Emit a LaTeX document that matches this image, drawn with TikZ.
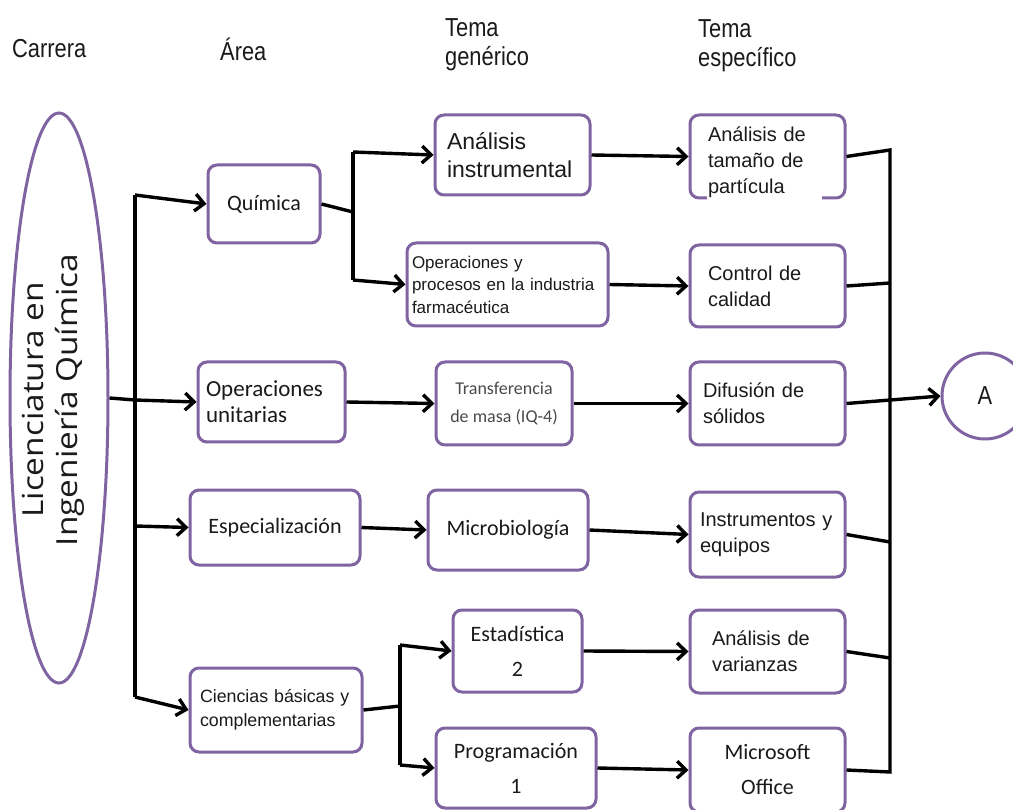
\documentclass[tikz,border=0pt]{standalone}
\usepackage{fontspec}
\setmainfont{Liberation Sans}
\newfontfamily\calfont{Carlito}
\newfontfamily\openfont[FakeStretch=1.15]{Open Sans}
\newfontfamily\headfont[FakeStretch=0.84]{Liberation Sans}
\usetikzlibrary{arrows.meta,shapes.geometric}
\definecolor{frame}{HTML}{8064A2}
\definecolor{ink}{HTML}{1A1A1A}
\definecolor{greyink}{HTML}{4A4A4A}
\newcommand\setfs[2]{\fontsize{#1}{#2}\selectfont}
\begin{document}
\begin{tikzpicture}[x=1pt,y=-1pt,
  box/.style={draw=frame, line width=3pt, rounded corners=9pt, fill=white, inner sep=0pt, text=ink},
  plain/.style={inner sep=0pt, text=ink},
  conn/.style={draw=black, line width=3.4pt},
  arr/.style={conn, -{Straight Barb[length=9pt,width=17pt,line width=3.4pt]}},
  head/.style={inner sep=0pt, anchor=west, align=left, text=ink, font=\headfont\setfs{26}{29}}]
\useasboundingbox (0,0) rectangle (1013,810);
\fill[white] (0,0) rectangle (1013,810);

% column headings
\node[head] (hcar) at (12,49) {Carrera};
\node[head] (hare) at (220,49) {Área};
\node[head] (hgen) at (445,45) {Tema\\genérico};
\node[head] (hesp) at (698,46) {Tema\\específico};

% career
\node[ellipse, draw=frame, line width=3pt, minimum width=98pt, minimum height=570pt, inner sep=0pt] (car) at (59,398) {};
\node[plain, rotate=90, align=center, font=\openfont\setfs{29}{34}] (cartxt) at (53,400) {Licenciatura en\\Ingeniería Química};

% areas
\node[box, minimum width=112pt, minimum height=78pt, font=\calfont\setfs{22}{26}] (quim) at (264,204) {Química};
\node[box, minimum width=147pt, minimum height=80pt, text width=131pt, align=left, font=\calfont\setfs{23}{26}] (opun) at (271.5,402) {Operaciones\\unitarias};
\node[box, minimum width=170pt, minimum height=75pt, font=\calfont\setfs{22}{26}] (espe) at (275,527.5) {Especialización};
\node[box, minimum width=172pt, minimum height=84pt, text width=152pt, align=left, font=\setfs{17.8}{24}] (cien) at (276,710) {Ciencias básicas y\\complementarias};

% generic topics
\node[box, minimum width=155pt, minimum height=80pt, text width=131pt, align=left, font=\setfs{23}{28}] (anin) at (512.5,155) {Análisis\\instrumental};
\node[box, minimum width=201pt, minimum height=83pt, text width=191pt, align=left, font=\setfs{17}{22.5}] (opro) at (507.5,284.5) {Operaciones y\\procesos en la industria\\farmacéutica};
\node[box, minimum width=136pt, minimum height=83pt, align=center, text=greyink, font=\calfont\setfs{18}{28}] (tran) at (504,403.5) {Transferencia\\de masa (IQ-4)};
\node[box, minimum width=160pt, minimum height=80pt, font=\calfont\setfs{22}{26}] (micr) at (508,530) {Microbiología};
\node[box, minimum width=129pt, minimum height=82pt, align=center, font=\calfont\setfs{22}{35}] (esta) at (517.5,651) {Estadística\\2};
\node[box, minimum width=160pt, minimum height=80pt, align=center, font=\calfont\setfs{22}{35}] (prog) at (516,768) {Programación\\1};

% specific topics
\node[box, minimum width=155pt, minimum height=83pt] (atam) at (767.5,156.5) {};
\fill[white] (707,194) rectangle (822,201);
\node[plain, text width=119pt, align=left, font=\setfs{20}{26}] (atamtxt) at (767.5,162) {Análisis de\\tamaño de\\partícula};
\node[box, minimum width=155pt, minimum height=82pt, text width=119pt, align=left, font=\setfs{20}{26}] (ctrl) at (767.5,286) {Control de\\calidad};
\node[box, minimum width=155pt, minimum height=83pt, text width=129pt, align=left, font=\setfs{20}{26}] (difu) at (767.5,403.5) {Difusión de\\sólidos};
\node[box, minimum width=155pt, minimum height=85pt, text width=135pt, align=left, font=\setfs{20}{26}] (inst) at (767.5,534.5) {Instrumentos y\\equipos};
\node[box, minimum width=155pt, minimum height=83pt, text width=111pt, align=left, font=\setfs{20}{26}] (vari) at (767.5,651.5) {Análisis de\\varianzas};
\node[box, minimum width=155pt, minimum height=84pt, align=center, font=\calfont\setfs{22}{35}] (offi) at (767.5,770) {Microsoft\\Office};

% continuation mark
\node[circle, draw=frame, line width=3pt, minimum size=86pt, inner sep=0pt, text=ink, font=\headfont\setfs{26}{28}] (A) at (985,396) {A};

% career to areas
\coordinate (tTop) at (135,195);
\coordinate (tMid) at (135,400);
\coordinate (tEsp) at (135,526);
\coordinate (tBot) at (135,697);
\draw[conn] (tTop) -- (tBot);
\draw[arr] (tTop) -- (quim.west);
\draw[arr] (car.east) -- (tMid) -- (opun.west);
\draw[arr] (tEsp) -- (espe.west);
\draw[arr] (tBot) -- (cien.west);

% Química branch
\coordinate (qj) at (353,212);
\coordinate (qt) at (353,152);
\coordinate (qb) at (353,280);
\draw[conn] (quim.east) -- (qj);
\draw[conn] (qt) -- (qb);
\draw[arr] (qt) -- (anin.west);
\draw[arr] (qb) -- (opro.west);

% remaining areas to generic topics
\draw[arr] (opun.east) -- (tran.west);
\draw[arr] (espe.east) -- (micr.west);
\coordinate (cj) at (400,706);
\coordinate (ct) at (400,645);
\coordinate (cb) at (400,765);
\draw[conn] (cien.east) -- (cj);
\draw[conn] (ct) -- (cb);
\draw[arr] (ct) -- (esta.west);
\draw[arr] (cb) -- (prog.west);

% generic to specific topics
\draw[arr] (anin.east) -- (atam.west);
\draw[arr] (opro.east) -- (ctrl.west);
\draw[arr] (tran.east) -- (difu.west);
\draw[arr] (micr.east) -- (inst.west);
\draw[arr] (esta.east) -- (vari.west);
\draw[arr] (prog.east) -- (offi.west);

% collector on the right
\coordinate (r1) at (890,150);
\coordinate (r2) at (890,283);
\coordinate (r4) at (890,542);
\coordinate (r5) at (890,658);
\coordinate (r6) at (890,772);
\draw[conn] (atam.east) -- (r1) -- (r6) -- (offi.east);
\draw[conn] (ctrl.east) -- (r2);
\draw[conn] (inst.east) -- (r4);
\draw[conn] (vari.east) -- (r5);
\draw[arr] (difu.east) -- (A.west);
\end{tikzpicture}
\end{document}
